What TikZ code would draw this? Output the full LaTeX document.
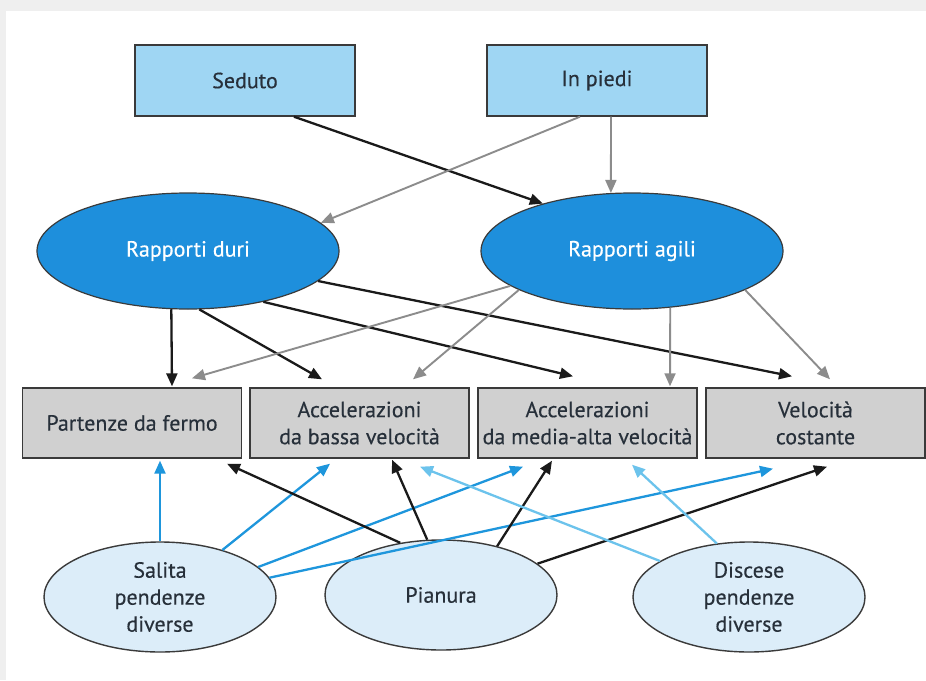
\documentclass[tikz,border=0pt]{standalone}
\usepackage{fontspec}
\setmainfont{PT Sans}[FakeBold=0.35]
\usetikzlibrary{arrows.meta,shapes.geometric}

\definecolor{pagegray}{HTML}{EFEFEF}
\definecolor{posfill}{HTML}{9FD6F3}
\definecolor{gearfill}{HTML}{1E8FDC}
\definecolor{efffill}{HTML}{D0D0D0}
\definecolor{terrfill}{HTML}{DCEDF9}
\definecolor{edgecol}{HTML}{3A3A3A}
\definecolor{txtcol}{HTML}{27303A}
\definecolor{arrblack}{HTML}{1A1A1A}
\definecolor{arrgray}{HTML}{8C8C8C}
\definecolor{arrblue}{HTML}{1E96DC}
\definecolor{arrlblue}{HTML}{6CC3EC}

\begin{document}
\begin{tikzpicture}[x=1pt,y=-1pt,
  every node/.style={font=\fontsize{22}{27}\selectfont, text=txtcol, align=center, inner sep=0pt},
  posbox/.style={draw=edgecol, line width=1.4pt, fill=posfill, minimum width=220pt, minimum height=71pt},
  gear/.style={ellipse, draw=edgecol, line width=1.2pt, fill=gearfill, text=white, minimum width=302pt, minimum height=116pt},
  effbox/.style={draw=edgecol, line width=1.4pt, fill=efffill, minimum width=219pt, minimum height=70pt},
  terrain/.style={ellipse, draw=edgecol, line width=1.4pt, fill=terrfill, minimum width=232pt, minimum height=110pt},
  blk/.style={draw=arrblack, line width=2.3pt, -{Triangle[length=13pt,width=11pt]}},
  gry/.style={draw=arrgray, line width=1.9pt, -{Triangle[length=13pt,width=11pt]}},
  blu/.style={draw=arrblue, line width=2.3pt, -{Triangle[length=13pt,width=11pt]}},
  lblu/.style={draw=arrlblue, line width=2.3pt, -{Triangle[length=13pt,width=11pt]}}
]
\useasboundingbox (0,0) rectangle (926,680);
% page frame
\fill[pagegray] (0,0) rectangle (926,680);
\fill[white] (6,11) rectangle (926,680);

% riding position
\node[posbox] (sed) at (245,80.5) {Seduto};
\node[posbox] (pie) at (597,80.5) {In piedi};

% gear ratios
\node[gear] (duri) at (188,251) {Rapporti duri};
\node[gear] (agili) at (632,251) {Rapporti agili};

% effort types
\node[effbox] (part) at (132,423) {Partenze da fermo};
\node[effbox] (bassa) at (359.5,423) {Accelerazioni\\da bassa velocità};
\node[effbox] (media) at (587.5,423) {Accelerazioni\\da media-alta velocità};
\node[effbox] (vel) at (815.5,423) {Velocità\\costante};

% terrain
\node[terrain] (sal) at (160,597) {Salita\\pendenze\\diverse};
\node[terrain] (pian) at (441,595) {Pianura};
\node[terrain] (disc) at (749,597) {Discese\\pendenze\\diverse};

% position -> gear
\draw[blk] ([xshift=49pt]sed.south) -- (agili.152);
\draw[gry] ([xshift=-17pt]pie.south) -- (duri.12);
\draw[gry] ([xshift=14pt]pie.south) -- (agili.110);

% gear -> effort
\draw[blk] (duri.254) -- ([shift={(40,-1)}]part.north);
\draw[blk] (duri.281) -- ([shift={(-37.5,-8)}]bassa.north);
\draw[blk] (duri.326) -- ([shift={(-14.5,-11)}]media.north);
\draw[blk] (duri.347) -- ([shift={(-23.5,-11)}]vel.north);
\draw[gry] (agili.196) -- ([shift={(60,-9)}]part.north);
\draw[gry] (agili.199) -- ([shift={(53.5,-8)}]bassa.north);
\draw[gry] (agili.304) -- ([shift={(82.5,-1)}]media.north);
\draw[gry] (agili.341) -- ([shift={(14.5,-8)}]vel.north);

% terrain -> effort
\draw[blu] (sal.90) -- ([shift={(28,2)}]part.south);
\draw[blu] (sal.37) -- ([shift={(-29.5,5)}]bassa.south);
\draw[blu] (sal.17) -- ([shift={(-64.5,8)}]media.south);
\draw[blu] (sal.10) -- ([shift={(-42.5,10)}]vel.south);
\draw[blk] (pian.128) -- ([shift={(95,5)}]part.south);
\draw[blk] (pian.104) -- ([shift={(32.5,1)}]bassa.south);
\draw[blk] (pian.41) -- ([shift={(-35.5,2)}]media.south);
\draw[blk] (pian.18) -- ([shift={(11.5,8)}]vel.south);
\draw[lblu] (disc.158) -- ([shift={(60.5,8)}]bassa.south);
\draw[lblu] (disc.121) -- ([shift={(44.5,6)}]media.south);
\end{tikzpicture}
\end{document}
